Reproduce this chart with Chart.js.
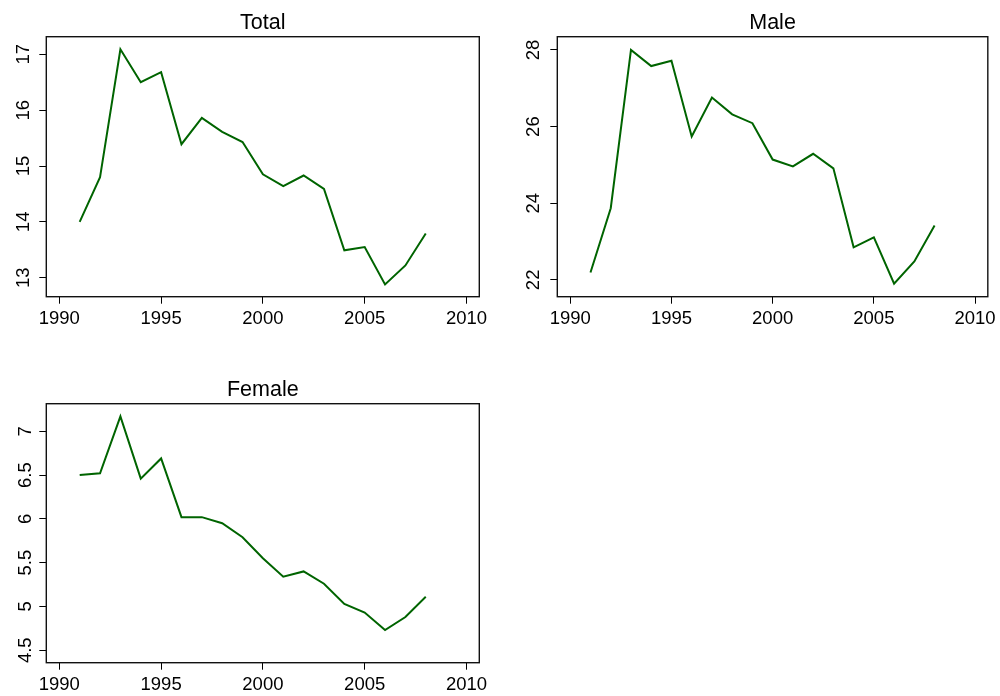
<!DOCTYPE html>
<html>
<head>
<meta charset="utf-8">
<script src="https://cdn.jsdelivr.net/npm/chart.js@4/dist/chart.umd.min.js"></script>
<style>
  html, body { margin: 0; padding: 0; background: #fff; overflow: hidden; }
  canvas { position: absolute; }
</style>
</head>
<body>
<canvas id="cTotal" width="500" height="348" style="left:0px;top:0px"></canvas>
<canvas id="cMale" width="500" height="348" style="left:500px;top:0px"></canvas>
<canvas id="cFemale" width="500" height="329" style="left:0px;top:367px"></canvas>
<script>
// ---- data ----
const years = [1991,1992,1993,1994,1995,1996,1997,1998,1999,2000,2001,2002,2003,2004,2005,2006,2007,2008];
const totalValues  = [14.00,14.80,17.09,16.50,16.68,15.39,15.86,15.61,15.43,14.85,14.64,14.83,14.59,13.49,13.55,12.88,13.22,13.79];
const maleValues   = [22.19,23.87,28.00,27.58,27.72,25.74,26.76,26.32,26.09,25.14,24.96,25.29,24.91,22.85,23.11,21.90,22.48,23.42];
const femaleValues = [6.50,6.52,7.17,6.46,6.69,6.02,6.02,5.95,5.79,5.55,5.34,5.40,5.26,5.03,4.93,4.73,4.88,5.11];
const xTicks = [1990,1995,2000,2005,2010];
const totalTicks = [13,14,15,16,17];
const maleTicks = [22,24,26,28];
const femaleTicks = [4.5,5,5.5,6,6.5,7];
const titles = ['Total','Male','Female'];

const FONT = 'Liberation Sans, Arial, Helvetica, sans-serif';

const boxPlugin = {
  id: 'box',
  afterDraw(chart) {
    const a = chart.chartArea, ctx = chart.ctx;
    ctx.save();
    ctx.strokeStyle = '#111';
    ctx.lineWidth = 1.4;
    ctx.strokeRect(a.left, a.top, a.right - a.left, a.bottom - a.top);
    ctx.restore();
  }
};

function makeChart(id, title, values, yTicks, yMin, yMax, L) {
  const ctx = document.getElementById(id);
  return new Chart(ctx, {
    type: 'line',
    data: {
      datasets: [{
        data: years.map((yr, i) => ({ x: yr, y: values[i] })),
        borderColor: '#006400',
        borderWidth: 2,
        pointRadius: 0,
        tension: 0,
        fill: false
      }]
    },
    options: {
      responsive: false,
      animation: false,
      events: [],
      layout: { padding: { left: 0, right: L.right, top: 0, bottom: 0 } },
      plugins: {
        legend: { display: false },
        tooltip: { enabled: false },
        title: {
          display: true,
          text: title,
          fullSize: false,
          color: '#000',
          font: { family: FONT, size: 21.5, weight: 'normal', lineHeight: 1.2 },
          padding: { top: 10.5, bottom: 0.4 }
        }
      },
      scales: {
        x: {
          type: 'linear',
          min: 1989.36,
          max: 2010.63,
          afterBuildTicks: ax => { ax.ticks = xTicks.map(v => ({ value: v })); },
          afterFit: ax => { ax.height = L.xh; },
          ticks: {
            autoSkip: false, maxRotation: 0, minRotation: 0,
            color: '#000', padding: 4,
            font: { family: FONT, size: 18.5 },
            callback: v => String(v)
          },
          grid: { drawOnChartArea: false, drawTicks: true, tickLength: 7, color: '#000', lineWidth: 1 },
          border: { display: false }
        },
        y: {
          type: 'linear',
          min: yMin,
          max: yMax,
          afterBuildTicks: ax => { ax.ticks = yTicks.map(v => ({ value: v })); },
          afterFit: ax => { ax.width = L.yw; },
          ticks: {
            autoSkip: false, minRotation: 90, maxRotation: 90,
            crossAlign: 'center', padding: L.yp,
            color: '#000',
            font: { family: FONT, size: 18.5 },
            callback: v => String(v)
          },
          grid: { drawOnChartArea: false, drawTicks: true, tickLength: 7, color: '#000', lineWidth: 1 },
          border: { display: false }
        }
      }
    },
    plugins: [boxPlugin]
  });
}

makeChart('cTotal', titles[0], totalValues, totalTicks, 12.66, 17.315, { yw: 46.3, yp: 5, right: 20.7, xh: 51.3 });
makeChart('cMale', titles[1], maleValues, maleTicks, 21.56, 28.347, { yw: 57.3, yp: 6, right: 10.7, xh: 51.3 });
makeChart('cFemale', titles[2], femaleValues, femaleTicks, 4.358, 7.315, { yw: 46.3, yp: 1, right: 20.7, xh: 33.3 });
</script>
</body>
</html>
